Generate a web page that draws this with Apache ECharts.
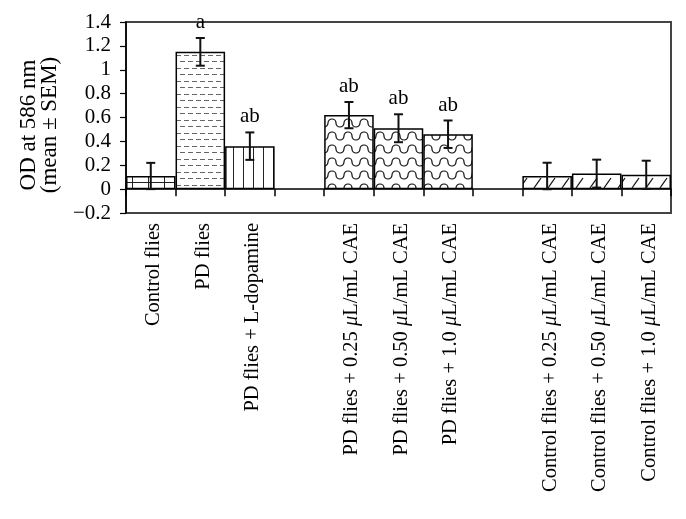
<!DOCTYPE html>
<html><head><meta charset="utf-8">
<script src="https://cdn.jsdelivr.net/npm/echarts@6/dist/echarts.min.js"></script>
<style>html,body{margin:0;padding:0;background:#fff}#c{width:686px;height:519px}</style>
</head><body><div id="c"></div>
<script>
// ---- data ----
const categories = ['Control flies', 'PD flies', 'PD flies + L-dopamine', '',
  'PD flies + 0.25 μL/mL CAE', 'PD flies + 0.50 μL/mL CAE', 'PD flies + 1.0 μL/mL CAE', '',
  'Control flies + 0.25 μL/mL CAE', 'Control flies + 0.50 μL/mL CAE', 'Control flies + 1.0 μL/mL CAE'];
const means = [0.11, 1.15, 0.36, null, 0.62, 0.51, 0.46, null, 0.11, 0.13, 0.12];
const sems = [0.11, 0.116, 0.115, null, 0.11, 0.117, 0.115, null, 0.111, 0.117, 0.118];
const letters = ['', 'a', 'ab', '', 'ab', 'ab', 'ab', '', '', '', ''];
const yTickLabels = ['−0.2', '0', '0.2', '0.4', '0.6', '0.8', '1', '1.2', '1.4'];
const yTitle = 'OD at 586 nm\n(mean ± SEM)';

// ---- styles ----
const FONT = '"Liberation Serif", "Times New Roman", serif';
const patternOf = ['grid', 'dash', 'vline', null, 'wave', 'wave', 'wave', null, 'hatch', 'hatch', 'hatch'];

function tile(w, h, draw) {
  const c = document.createElement('canvas');
  c.width = w; c.height = h;
  const g = c.getContext('2d');
  g.fillStyle = '#fff'; g.fillRect(0, 0, w, h);
  for (const dx of [-w, 0, w]) for (const dy of [-h, 0, h]) {
    g.save(); g.translate(dx, dy); draw(g); g.restore();
  }
  return { image: c, repeat: 'repeat' };
}
const patterns = {
  grid: tile(16, 7, g => {
    g.fillStyle = '#222';
    g.fillRect(4, 0, 1, 7);
    g.fillRect(0, 0, 16, 1);
  }),
  dash: tile(8, 13, g => {
    g.fillStyle = '#666';
    g.fillRect(0, 3, 5, 1);
    g.fillRect(4, 9, 5, 1);
  }),
  vline: tile(10, 10, g => {
    g.fillStyle = '#222';
    g.fillRect(3, 0, 1, 10);
  }),
  wave: tile(16, 13, g => {
    g.strokeStyle = '#111'; g.lineWidth = 1.2;
    g.beginPath();
    g.arc(4, 6, 4, Math.PI, 0, true);
    g.stroke();
    g.beginPath();
    g.arc(12, 6, 4, Math.PI, 0, false);
    g.stroke();
  }),
  hatch: tile(14, 13, g => {
    g.strokeStyle = '#111'; g.lineWidth = 1.2;
    g.beginPath();
    g.moveTo(2, 6); g.lineTo(9, -4);
    g.stroke();
  })
};

const barData = means.map((v, i) => v == null ? null : {
  value: v,
  itemStyle: { color: patterns[patternOf[i]] }
});
const errData = [];
means.forEach((m, i) => { if (m != null) errData.push([i, m, sems[i]]); });

const chart = echarts.init(document.getElementById('c'), null, { renderer: 'canvas' });
chart.setOption({
  animation: false,
  backgroundColor: '#fff',
  grid: { left: 126, right: 15, top: 22, bottom: 306, show: true, borderColor: '#444', borderWidth: 2, backgroundColor: 'transparent' },
  graphic: [{
    type: 'text', x: 39, y: 125, rotation: Math.PI / 2,
    style: { text: yTitle, align: 'center', verticalAlign: 'middle', fontFamily: FONT, fontSize: 23, lineHeight: 21, fill: '#000' }
  }],
  xAxis: [{
    type: 'category', data: categories, position: 'bottom',
    axisLine: { show: false, onZero: false }, axisTick: { show: false },
    axisLabel: {
      interval: 0, rotate: 90, margin: 10, color: '#000', fontFamily: FONT, fontSize: 20.5,
      padding: [6, 0, 0, 0],
      formatter: v => v.split('μ').join('{mu|μ}'),
      rich: { mu: { fontStyle: 'italic', fontFamily: FONT, fontSize: 20.5, color: '#000' } }
    }
  }, {
    type: 'category', data: categories, position: 'bottom',
    axisLine: { show: true, onZero: true, lineStyle: { color: '#000', width: 1.5 } },
    axisTick: { show: true, length: 7, interval: 0, lineStyle: { color: '#000', width: 1.5 } },
    axisLabel: { show: false }
  }],
  yAxis: {
    type: 'value', min: -0.2, max: 1.4, interval: 0.2,
    axisLine: { show: true, lineStyle: { color: '#000', width: 1.5 } },
    axisTick: { show: true, length: 6, lineStyle: { color: '#000', width: 1.2 } },
    splitLine: { show: false },
    axisLabel: { formatter: (v, i) => yTickLabels[i], color: '#000', fontFamily: FONT, fontSize: 21, margin: 15 }
  },
  series: [{
    type: 'bar', xAxisIndex: 0, data: barData, barWidth: '100%', barCategoryGap: 0,
    itemStyle: { borderColor: '#000', borderWidth: 1.5 }, z: 2
  }, {
    type: 'custom', xAxisIndex: 0, data: errData, z: 5,
    renderItem: (params, api) => {
      const i = api.value(0), m = api.value(1), s = api.value(2);
      const t = api.coord([i, m + s]), b = api.coord([i, m - s]);
      const hw = 4.5, st = { stroke: '#111', lineWidth: 2 };
      return {
        type: 'group', children: [
          { type: 'line', shape: { x1: t[0], y1: t[1], x2: b[0], y2: b[1] }, style: st },
          { type: 'line', shape: { x1: t[0] - hw, y1: t[1], x2: t[0] + hw, y2: t[1] }, style: st },
          { type: 'line', shape: { x1: b[0] - hw, y1: b[1], x2: b[0] + hw, y2: b[1] }, style: st },
          { type: 'text', x: t[0], y: t[1] - 5, style: { text: letters[i], align: 'center', verticalAlign: 'bottom', fontFamily: FONT, fontSize: 21, fill: '#000' } }
        ]
      };
    }
  }]
});
</script></body></html>
